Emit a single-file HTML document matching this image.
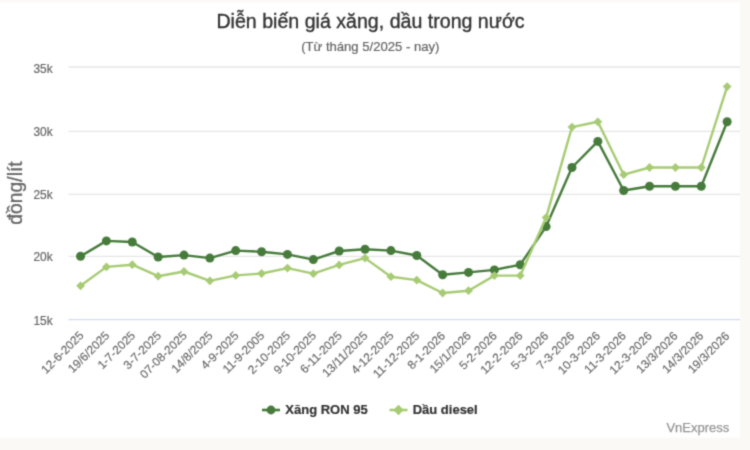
<!DOCTYPE html>
<html><head><meta charset="utf-8">
<style>
html,body{margin:0;padding:0;background:#faf9f6;width:750px;height:450px;overflow:hidden}
svg{display:block}
text{font-family:"Liberation Sans",sans-serif}
.title{font-size:19.6px;fill:#333333;stroke:#333333;stroke-width:0.35px}
.sub{font-size:13.1px;fill:#666666;stroke:#666666;stroke-width:0.2px}
.yl{font-size:11.88px;fill:#666666;stroke:#666666;stroke-width:0.2px}
.yt{font-size:19.3px;fill:#666666;stroke:#666666;stroke-width:0.3px}
.xl{font-size:11.88px;fill:#666666;stroke:#666666;stroke-width:0.15px}
.leg{font-size:13px;font-weight:bold;fill:#333333;stroke:#333333;stroke-width:0.2px}
.cr{font-size:13px;fill:#959595;stroke:#959595;stroke-width:0.25px}
</style></head>
<body>
<svg width="750" height="450" viewBox="0 0 750 450">
<defs><filter id="soft" x="0" y="0" width="750" height="450" filterUnits="userSpaceOnUse" color-interpolation-filters="sRGB"><feConvolveMatrix order="3" kernelMatrix="1 4 1 4 16 4 1 4 1" divisor="36" edgeMode="duplicate"/></filter></defs>
<g filter="url(#soft)">
<rect x="0" y="0" width="750" height="450" fill="#faf9f6"/>
<rect x="0" y="2.5" width="739.8" height="435.2" fill="#ffffff"/>
<line x1="68.5" y1="67.0" x2="740" y2="67.0" stroke="#e6e6e6" stroke-width="1.3"/>
<line x1="68.5" y1="131.3" x2="740" y2="131.3" stroke="#e6e6e6" stroke-width="1.3"/>
<line x1="68.5" y1="194.4" x2="740" y2="194.4" stroke="#e6e6e6" stroke-width="1.3"/>
<line x1="68.5" y1="256.4" x2="740" y2="256.4" stroke="#e6e6e6" stroke-width="1.3"/>
<line x1="68.5" y1="319.7" x2="740" y2="319.7" stroke="#d3daec" stroke-width="1.3"/>
<text x="52.6" y="72.70" text-anchor="end" class="yl">35k</text>
<text x="52.6" y="135.80" text-anchor="end" class="yl">30k</text>
<text x="52.6" y="198.60" text-anchor="end" class="yl">25k</text>
<text x="52.6" y="261.30" text-anchor="end" class="yl">20k</text>
<text x="52.6" y="324.50" text-anchor="end" class="yl">15k</text>
<text transform="translate(22.4,193) rotate(-90)" text-anchor="middle" class="yt">đồng/lít</text>
<text x="370.5" y="28.3" text-anchor="middle" class="title">Diễn biến giá xăng, dầu trong nước</text>
<text x="370.3" y="50.5" text-anchor="middle" class="sub">(Từ tháng 5/2025 - nay)</text>
<text transform="translate(84.35,336.20) rotate(-45)" text-anchor="end" class="xl">12-6-2025</text>
<text transform="translate(110.18,336.22) rotate(-45)" text-anchor="end" class="xl">19/6/2025</text>
<text transform="translate(136.01,336.24) rotate(-45)" text-anchor="end" class="xl">1-7-2025</text>
<text transform="translate(161.84,336.26) rotate(-45)" text-anchor="end" class="xl">3-7-2025</text>
<text transform="translate(187.67,336.28) rotate(-45)" text-anchor="end" class="xl">07-08-2025</text>
<text transform="translate(213.50,336.30) rotate(-45)" text-anchor="end" class="xl">14/8/2025</text>
<text transform="translate(239.32,336.32) rotate(-45)" text-anchor="end" class="xl">4-9-2025</text>
<text transform="translate(265.15,336.34) rotate(-45)" text-anchor="end" class="xl">11-9-2005</text>
<text transform="translate(290.98,336.36) rotate(-45)" text-anchor="end" class="xl">2-10-2025</text>
<text transform="translate(316.81,336.38) rotate(-45)" text-anchor="end" class="xl">9-10-2025</text>
<text transform="translate(342.64,336.40) rotate(-45)" text-anchor="end" class="xl">6-11-2025</text>
<text transform="translate(368.47,336.42) rotate(-45)" text-anchor="end" class="xl">13/11/2025</text>
<text transform="translate(394.30,336.44) rotate(-45)" text-anchor="end" class="xl">4-12-2025</text>
<text transform="translate(420.13,336.46) rotate(-45)" text-anchor="end" class="xl">11-12-2025</text>
<text transform="translate(445.96,336.48) rotate(-45)" text-anchor="end" class="xl">8-1-2026</text>
<text transform="translate(471.79,336.50) rotate(-45)" text-anchor="end" class="xl">15/1/2026</text>
<text transform="translate(497.61,336.52) rotate(-45)" text-anchor="end" class="xl">5-2-2026</text>
<text transform="translate(523.44,336.54) rotate(-45)" text-anchor="end" class="xl">12-2-2026</text>
<text transform="translate(549.27,336.56) rotate(-45)" text-anchor="end" class="xl">5-3-2026</text>
<text transform="translate(575.10,336.58) rotate(-45)" text-anchor="end" class="xl">7-3-2026</text>
<text transform="translate(600.93,336.60) rotate(-45)" text-anchor="end" class="xl">10-3-2026</text>
<text transform="translate(626.76,336.62) rotate(-45)" text-anchor="end" class="xl">11-3-2026</text>
<text transform="translate(652.59,336.64) rotate(-45)" text-anchor="end" class="xl">12-3-2026</text>
<text transform="translate(678.42,336.66) rotate(-45)" text-anchor="end" class="xl">13/3/2026</text>
<text transform="translate(704.25,336.68) rotate(-45)" text-anchor="end" class="xl">14/3/2026</text>
<text transform="translate(730.07,336.70) rotate(-45)" text-anchor="end" class="xl">19/3/2026</text>
<polyline points="80.55,256.30 106.41,240.90 132.28,242.00 158.14,257.00 184.01,255.10 209.87,258.10 235.73,250.60 261.60,251.70 287.46,254.40 313.33,259.60 339.19,251.00 365.05,249.20 390.92,250.60 416.78,255.50 442.65,274.80 468.51,272.40 494.37,269.90 520.24,264.70 546.10,226.60 571.97,167.50 597.83,141.40 623.69,190.50 649.56,186.20 675.42,186.20 701.29,186.20 727.15,121.80" fill="none" stroke="#467b3b" stroke-width="2.4" stroke-linejoin="round" stroke-linecap="round"/>
<circle cx="80.55" cy="256.30" r="4.5" fill="#467b3b"/>
<circle cx="106.41" cy="240.90" r="4.5" fill="#467b3b"/>
<circle cx="132.28" cy="242.00" r="4.5" fill="#467b3b"/>
<circle cx="158.14" cy="257.00" r="4.5" fill="#467b3b"/>
<circle cx="184.01" cy="255.10" r="4.5" fill="#467b3b"/>
<circle cx="209.87" cy="258.10" r="4.5" fill="#467b3b"/>
<circle cx="235.73" cy="250.60" r="4.5" fill="#467b3b"/>
<circle cx="261.60" cy="251.70" r="4.5" fill="#467b3b"/>
<circle cx="287.46" cy="254.40" r="4.5" fill="#467b3b"/>
<circle cx="313.33" cy="259.60" r="4.5" fill="#467b3b"/>
<circle cx="339.19" cy="251.00" r="4.5" fill="#467b3b"/>
<circle cx="365.05" cy="249.20" r="4.5" fill="#467b3b"/>
<circle cx="390.92" cy="250.60" r="4.5" fill="#467b3b"/>
<circle cx="416.78" cy="255.50" r="4.5" fill="#467b3b"/>
<circle cx="442.65" cy="274.80" r="4.5" fill="#467b3b"/>
<circle cx="468.51" cy="272.40" r="4.5" fill="#467b3b"/>
<circle cx="494.37" cy="269.90" r="4.5" fill="#467b3b"/>
<circle cx="520.24" cy="264.70" r="4.5" fill="#467b3b"/>
<circle cx="546.10" cy="226.60" r="4.5" fill="#467b3b"/>
<circle cx="571.97" cy="167.50" r="4.5" fill="#467b3b"/>
<circle cx="597.83" cy="141.40" r="4.5" fill="#467b3b"/>
<circle cx="623.69" cy="190.50" r="4.5" fill="#467b3b"/>
<circle cx="649.56" cy="186.20" r="4.5" fill="#467b3b"/>
<circle cx="675.42" cy="186.20" r="4.5" fill="#467b3b"/>
<circle cx="701.29" cy="186.20" r="4.5" fill="#467b3b"/>
<circle cx="727.15" cy="121.80" r="4.5" fill="#467b3b"/>
<polyline points="80.55,285.80 106.41,266.90 132.28,264.70 158.14,276.20 184.01,271.50 209.87,280.80 235.73,275.40 261.60,273.50 287.46,268.10 313.33,273.70 339.19,264.90 365.05,258.10 390.92,276.70 416.78,280.10 442.65,293.00 468.51,290.70 494.37,275.60 520.24,275.60 546.10,217.60 571.97,127.10 597.83,121.80 623.69,174.70 649.56,167.50 675.42,167.50 701.29,167.50 727.15,86.60" fill="none" stroke="#a6cb73" stroke-width="2.4" stroke-linejoin="round" stroke-linecap="round"/>
<path d="M80.55 281.40L84.95 285.80L80.55 290.20L76.15 285.80Z" fill="#a6cb73"/>
<path d="M106.41 262.50L110.81 266.90L106.41 271.30L102.01 266.90Z" fill="#a6cb73"/>
<path d="M132.28 260.30L136.68 264.70L132.28 269.10L127.88 264.70Z" fill="#a6cb73"/>
<path d="M158.14 271.80L162.54 276.20L158.14 280.60L153.74 276.20Z" fill="#a6cb73"/>
<path d="M184.01 267.10L188.41 271.50L184.01 275.90L179.61 271.50Z" fill="#a6cb73"/>
<path d="M209.87 276.40L214.27 280.80L209.87 285.20L205.47 280.80Z" fill="#a6cb73"/>
<path d="M235.73 271.00L240.13 275.40L235.73 279.80L231.33 275.40Z" fill="#a6cb73"/>
<path d="M261.60 269.10L266.00 273.50L261.60 277.90L257.20 273.50Z" fill="#a6cb73"/>
<path d="M287.46 263.70L291.86 268.10L287.46 272.50L283.06 268.10Z" fill="#a6cb73"/>
<path d="M313.33 269.30L317.73 273.70L313.33 278.10L308.93 273.70Z" fill="#a6cb73"/>
<path d="M339.19 260.50L343.59 264.90L339.19 269.30L334.79 264.90Z" fill="#a6cb73"/>
<path d="M365.05 253.70L369.45 258.10L365.05 262.50L360.65 258.10Z" fill="#a6cb73"/>
<path d="M390.92 272.30L395.32 276.70L390.92 281.10L386.52 276.70Z" fill="#a6cb73"/>
<path d="M416.78 275.70L421.18 280.10L416.78 284.50L412.38 280.10Z" fill="#a6cb73"/>
<path d="M442.65 288.60L447.05 293.00L442.65 297.40L438.25 293.00Z" fill="#a6cb73"/>
<path d="M468.51 286.30L472.91 290.70L468.51 295.10L464.11 290.70Z" fill="#a6cb73"/>
<path d="M494.37 271.20L498.77 275.60L494.37 280.00L489.97 275.60Z" fill="#a6cb73"/>
<path d="M520.24 271.20L524.64 275.60L520.24 280.00L515.84 275.60Z" fill="#a6cb73"/>
<path d="M546.10 213.20L550.50 217.60L546.10 222.00L541.70 217.60Z" fill="#a6cb73"/>
<path d="M571.97 122.70L576.37 127.10L571.97 131.50L567.57 127.10Z" fill="#a6cb73"/>
<path d="M597.83 117.40L602.23 121.80L597.83 126.20L593.43 121.80Z" fill="#a6cb73"/>
<path d="M623.69 170.30L628.09 174.70L623.69 179.10L619.29 174.70Z" fill="#a6cb73"/>
<path d="M649.56 163.10L653.96 167.50L649.56 171.90L645.16 167.50Z" fill="#a6cb73"/>
<path d="M675.42 163.10L679.82 167.50L675.42 171.90L671.02 167.50Z" fill="#a6cb73"/>
<path d="M701.29 163.10L705.69 167.50L701.29 171.90L696.89 167.50Z" fill="#a6cb73"/>
<path d="M727.15 82.20L731.55 86.60L727.15 91.00L722.75 86.60Z" fill="#a6cb73"/>
<line x1="262" y1="410" x2="280" y2="410" stroke="#467b3b" stroke-width="2.6"/>
<circle cx="271" cy="410" r="4.4" fill="#467b3b"/>
<text x="285.3" y="413.6" class="leg">Xăng RON 95</text>
<line x1="389.5" y1="410" x2="407.5" y2="410" stroke="#a6cb73" stroke-width="2.6"/>
<path d="M398.5 404.8L403.7 410L398.5 415.2L393.3 410Z" fill="#a6cb73"/>
<text x="412.7" y="413.6" class="leg">Dầu diesel</text>
<text x="729.3" y="432.1" text-anchor="end" class="cr">VnExpress</text>
</g>
</svg>
</body></html>
